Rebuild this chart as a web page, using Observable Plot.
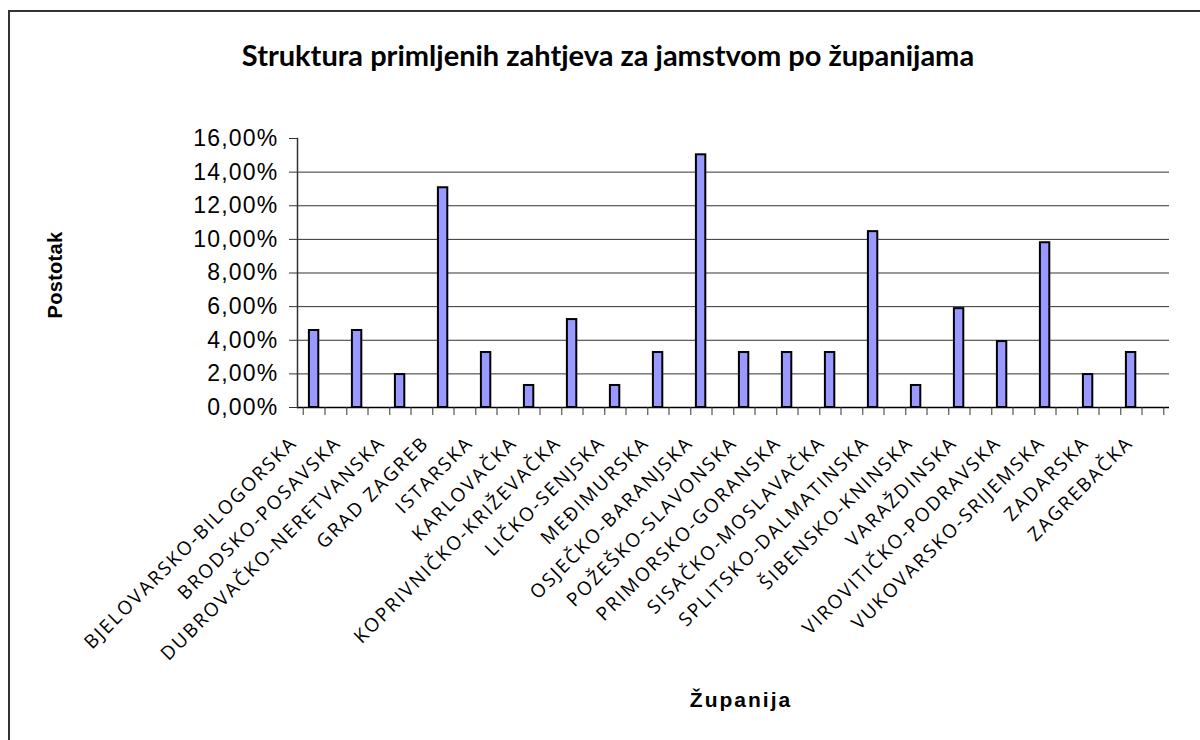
<!DOCTYPE html>
<html><head><meta charset="utf-8">
<script src="https://cdn.jsdelivr.net/npm/d3@7"></script>
<script src="https://cdn.jsdelivr.net/npm/@observablehq/plot@0.6"></script>
<style>
body{margin:0;background:#fff;}
#wrap{position:relative;width:1200px;height:740px;overflow:hidden;background:#fff;}
#frame{position:absolute;left:8px;top:10px;width:1300px;height:800px;border-left:2px solid #333;border-top:2px solid #333;}
#chart,#labels{position:absolute;left:0;top:0;}
#title{position:absolute;left:8px;width:1200px;top:40px;text-align:center;font-family:Lato,"Open Sans",sans-serif;font-weight:bold;font-size:29px;line-height:29px;color:#000;white-space:nowrap;}
#ylab{position:absolute;left:55px;top:275px;transform:translate(-50%,-50%) rotate(-90deg);font-family:"Liberation Sans",Arial,sans-serif;font-weight:bold;font-size:20px;line-height:20px;letter-spacing:0.3px;white-space:nowrap;}
#xlab{position:absolute;left:741px;top:689px;transform:translateX(-50%);font-family:"Liberation Sans",Arial,sans-serif;font-weight:bold;font-size:21px;line-height:21px;letter-spacing:2px;white-space:nowrap;}
</style></head>
<body>
<div id="wrap">
  <div id="frame"></div>
  <div id="chart"></div>
  <div id="labels"></div>
  <div id="title">Struktura primljenih zahtjeva za jamstvom po županijama</div>
  <div id="ylab">Postotak</div>
  <div id="xlab">Županija</div>
</div>
<script>
const counties = [
  "BJELOVARSKO-BILOGORSKA","BRODSKO-POSAVSKA","DUBROVAČKO-NERETVANSKA","GRAD ZAGREB",
  "ISTARSKA","KARLOVAČKA","KOPRIVNIČKO-KRIŽEVAČKA","LIČKO-SENJSKA","MEĐIMURSKA",
  "OSJEČKO-BARANJSKA","POŽEŠKO-SLAVONSKA","PRIMORSKO-GORANSKA","SISAČKO-MOSLAVAČKA",
  "SPLITSKO-DALMATINSKA","ŠIBENSKO-KNINSKA","VARAŽDINSKA","VIROVITIČKO-PODRAVSKA",
  "VUKOVARSKO-SRIJEMSKA","ZADARSKA","ZAGREBAČKA"
];
const shares = [4.58,4.58,1.96,13.07,3.27,1.31,5.23,1.31,3.27,15.03,3.27,3.27,3.27,10.46,1.31,5.88,3.92,9.80,1.96,3.27];
const yTicks = [0,2,4,6,8,10,12,14,16];
const gridTicks = [2,4,6,8,10,12,14];

const data = counties.map((c, i) => ({county: c, share: shares[i]}));

const W = 1200, H = 740;
const mL = 297, mR = 31, mT = 138, mB = 333;
const bw = (W - mL - mR) / counties.length;  // band width
const slot = bw / 2;
const barW = 10;
const barCenter = slot / 2;                 // bar centered in first half of band
const fmt = d => d.toFixed(2).replace(".", ",") + "%";

const chart = Plot.plot({
  width: W, height: H,
  marginLeft: mL, marginRight: mR, marginTop: mT, marginBottom: mB,
  style: {background: "transparent", color: "#000"},
  x: {type: "band", domain: counties, paddingInner: 0, paddingOuter: 0, axis: null},
  y: {domain: [0, 16], axis: null},
  marks: [
    Plot.gridY(gridTicks, {stroke: "#333", strokeOpacity: 1, strokeWidth: 1}),
    Plot.barY(data, {
      x: "county", y: "share",
      fill: "#9999FF", stroke: "#000", strokeWidth: 2,
      insetLeft: barCenter - barW / 2, insetRight: bw - barCenter - barW / 2
    }),
    Plot.ruleY([0], {stroke: "#000", strokeWidth: 1.5}),
    Plot.frame({anchor: "left", stroke: "#333", strokeWidth: 1.5}),
    Plot.axisY({ticks: yTicks, tickSize: 8, tickPadding: 11, tickFormat: fmt,
      fontSize: 23, fontFamily: "Liberation Sans, Arial, sans-serif", stroke: "#333", label: null}),
    Plot.axisX({tickSize: 8, tickFormat: () => "", stroke: "#333", label: null}),
    Plot.axisX({tickSize: 8, tickFormat: () => "", stroke: "#333", label: null, dx: bw / 2}),
    Plot.axisX({ticks: [counties[0]], tickSize: 8, tickFormat: () => "", stroke: "#333", label: null, dx: -bw / 2})
  ]
});
document.getElementById("chart").appendChild(chart);
chart.querySelectorAll("g[aria-label='y-axis tick label'] text").forEach(t => t.setAttribute("letter-spacing", "1.2"));

// Category labels: Excel spaces them on a slightly wider pitch than the bars
const labels = Plot.plot({
  width: W, height: H,
  marginLeft: mL, marginRight: mR, marginTop: mT, marginBottom: mB,
  style: {background: "transparent", color: "#000"},
  x: {type: "point", domain: counties, range: [284, 1128], padding: 0, axis: null},
  y: {domain: [0, 16], axis: null},
  marks: [
    Plot.text(counties, {
      x: d => d, text: d => d, frameAnchor: "bottom",
      rotate: -45, textAnchor: "end", lineAnchor: "top",
      dy: 27,
      fontSize: 19, fontFamily: "Open Sans, sans-serif", fill: "#000"
    })
  ]
});
document.getElementById("labels").appendChild(labels);
labels.querySelectorAll("g[aria-label='text'] text").forEach(t => t.setAttribute("letter-spacing", "2"));
</script>
</body></html>
